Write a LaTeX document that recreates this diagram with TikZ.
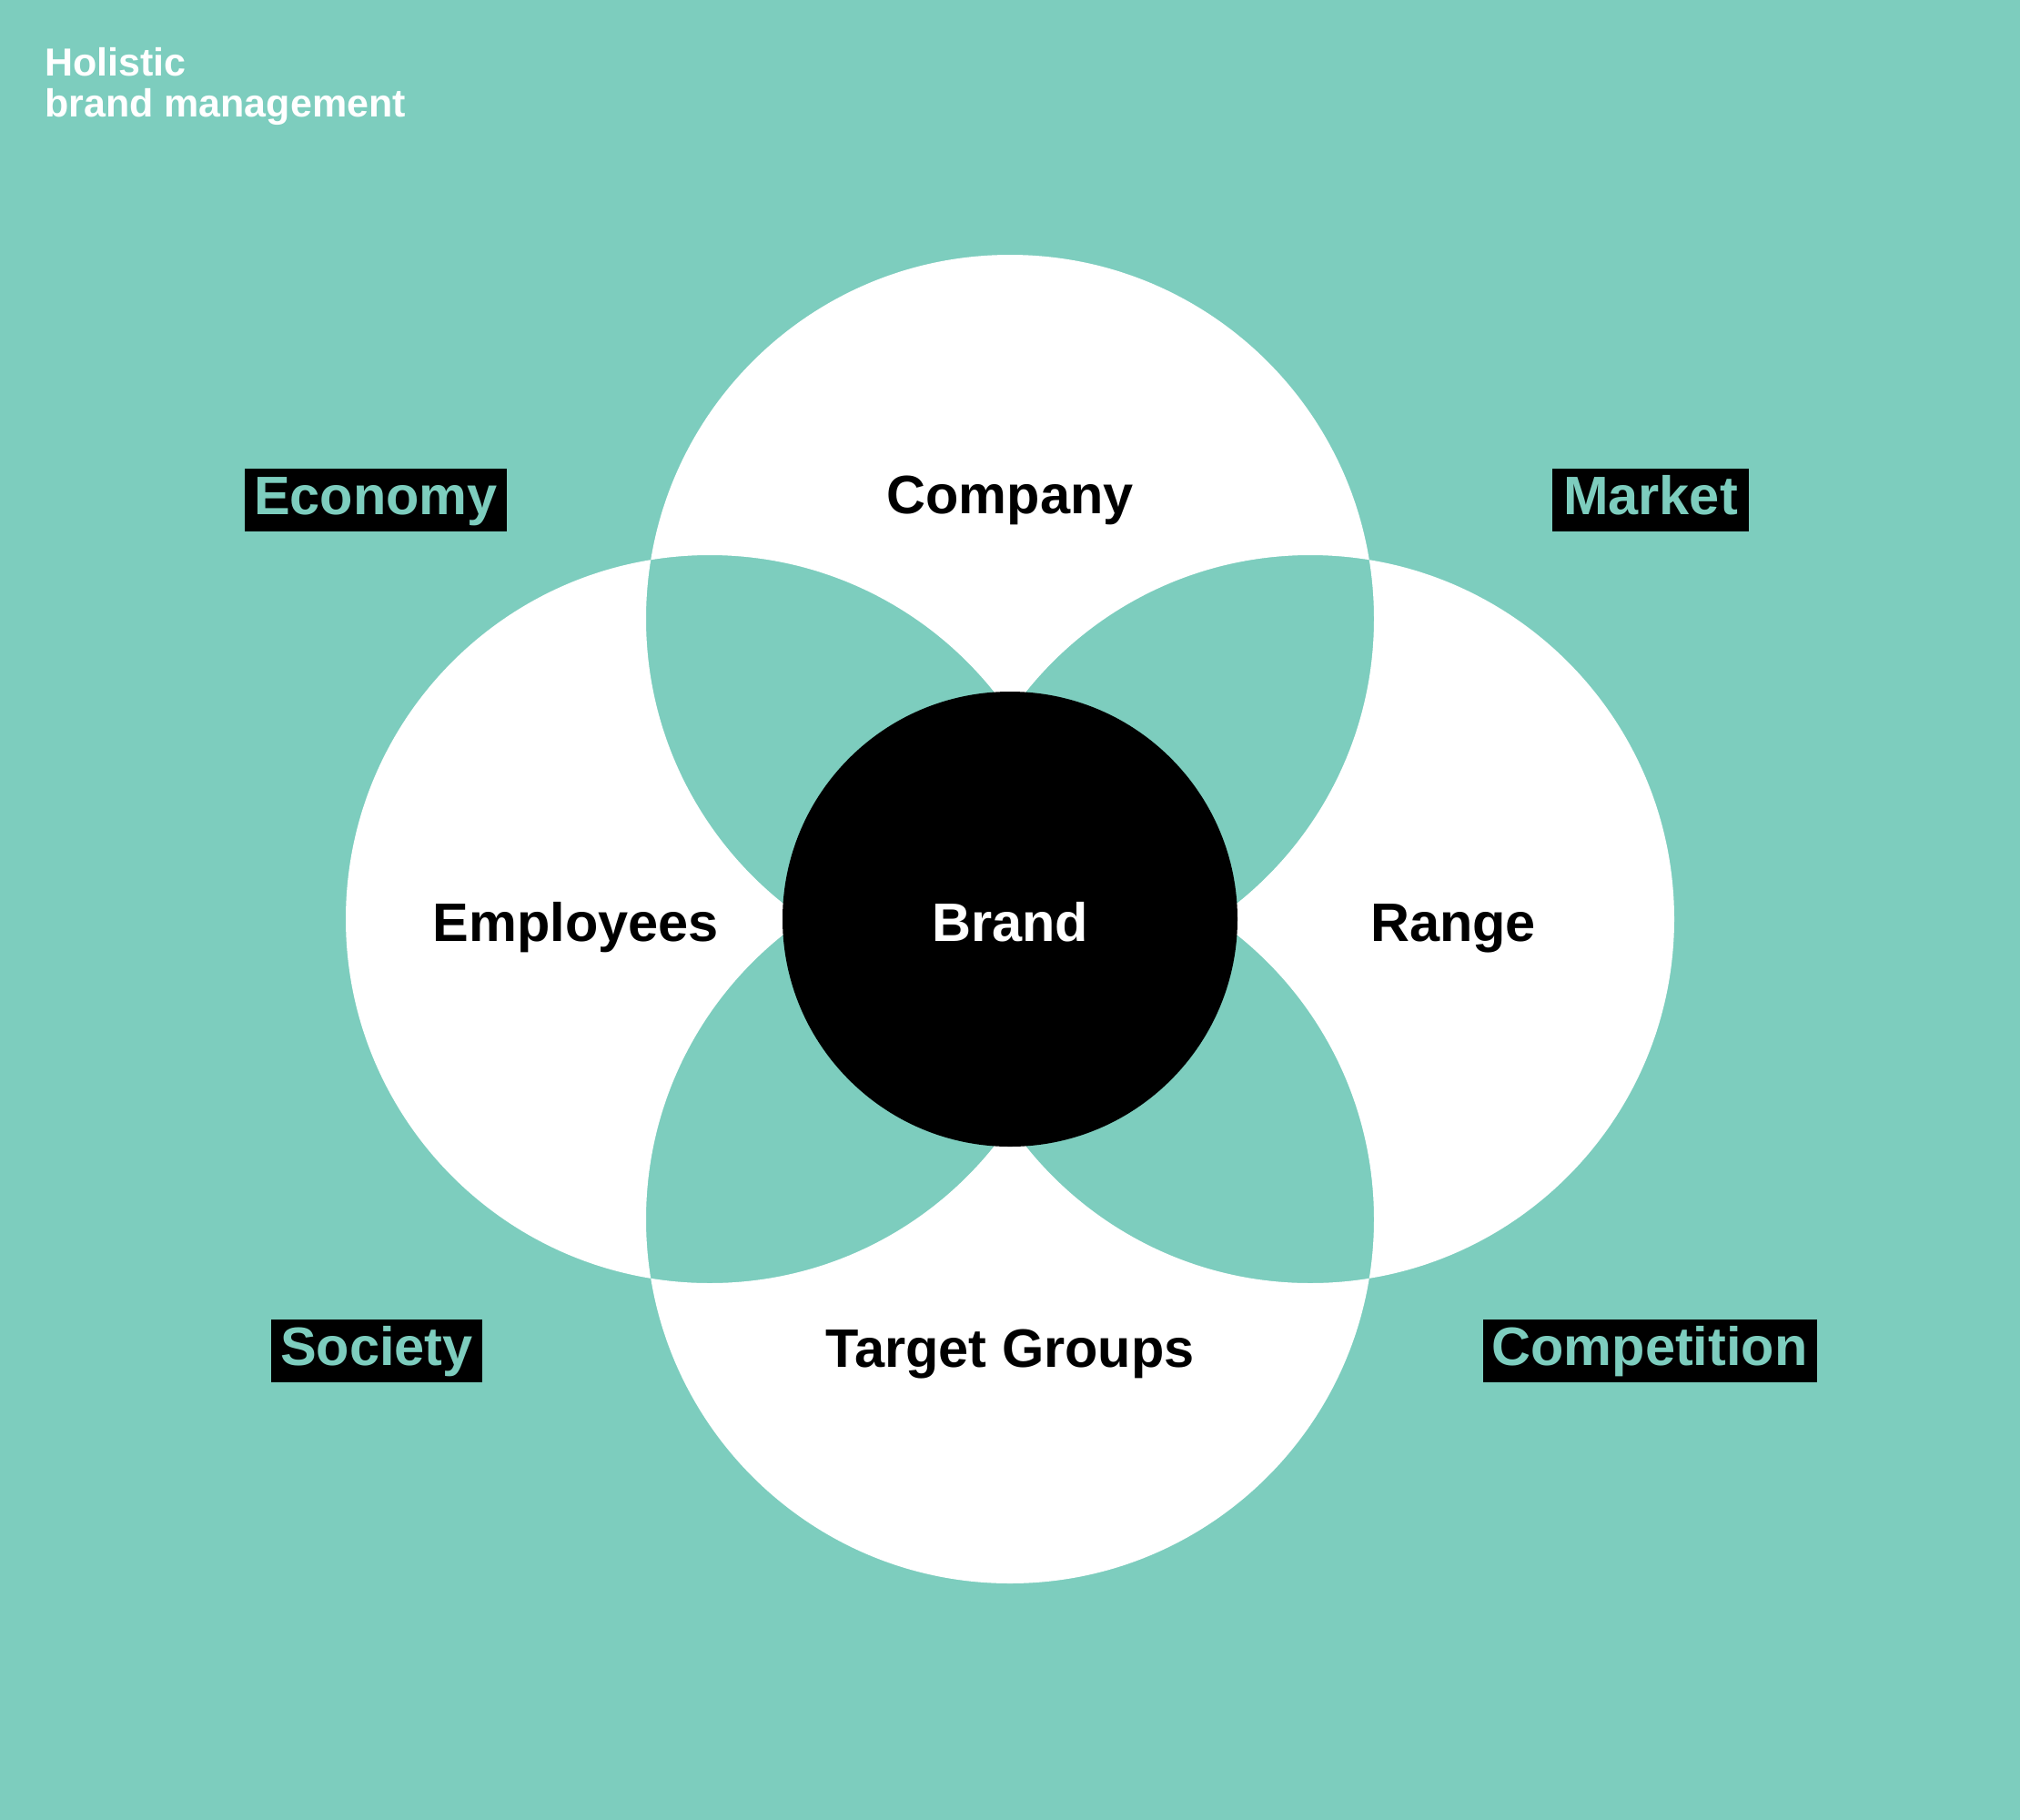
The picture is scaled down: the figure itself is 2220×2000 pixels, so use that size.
\documentclass[tikz,border=0pt]{standalone}
\usepackage{fontspec}
\setmainfont{Liberation Sans}
\definecolor{teal0}{RGB}{125,205,190}
\begin{document}
\begin{tikzpicture}[x=1pt,y=-1pt,
  lbl/.style={font=\bfseries\fontsize{59.5}{61}\selectfont, inner sep=0pt, anchor=base},
  tag/.style={lbl, fill=black, text=teal0, inner xsep=10pt, inner ysep=11pt, text height=39pt, text depth=8pt},
  ttl/.style={font=\bfseries\fontsize{43}{46}\selectfont, text=white, inner sep=0pt, anchor=base west}]
\fill[teal0] (0,0) rectangle (2220,2000);
\useasboundingbox (0,0) rectangle (2220,2000);
\coordinate (cT) at (1110,680);
\coordinate (cL) at (780,1010);
\coordinate (cR) at (1440,1010);
\coordinate (cB) at (1110,1340);
\fill[white, even odd rule] (cT) circle[radius=400pt] (cL) circle[radius=400pt]
  (cR) circle[radius=400pt] (cB) circle[radius=400pt];
\node[circle, fill=black, minimum size=500pt, inner sep=0pt] (brandc) at (1110,1010) {};
\node[lbl, text=white] (brand) at (1110,1034) {Brand};
\node[lbl] (company) at (1110,564) {Company};
\node[lbl] (employees) at (633,1034) {Employees};
\node[lbl] (range) at (1597,1034) {Range};
\node[lbl] (target) at (1110,1502) {Target Groups};
\node[tag] (economy) at (413,565) {Economy};
\node[tag, inner xsep=12pt] (market) at (1814,565) {Market};
\node[tag] (society) at (414,1500) {Society};
\node[tag] (competition) at (1813,1500) {Competition};
\node[ttl] (t1) at (49,83) {Holistic};
\node[ttl] (t2) at (49,128) {brand management};
\end{tikzpicture}
\end{document}
